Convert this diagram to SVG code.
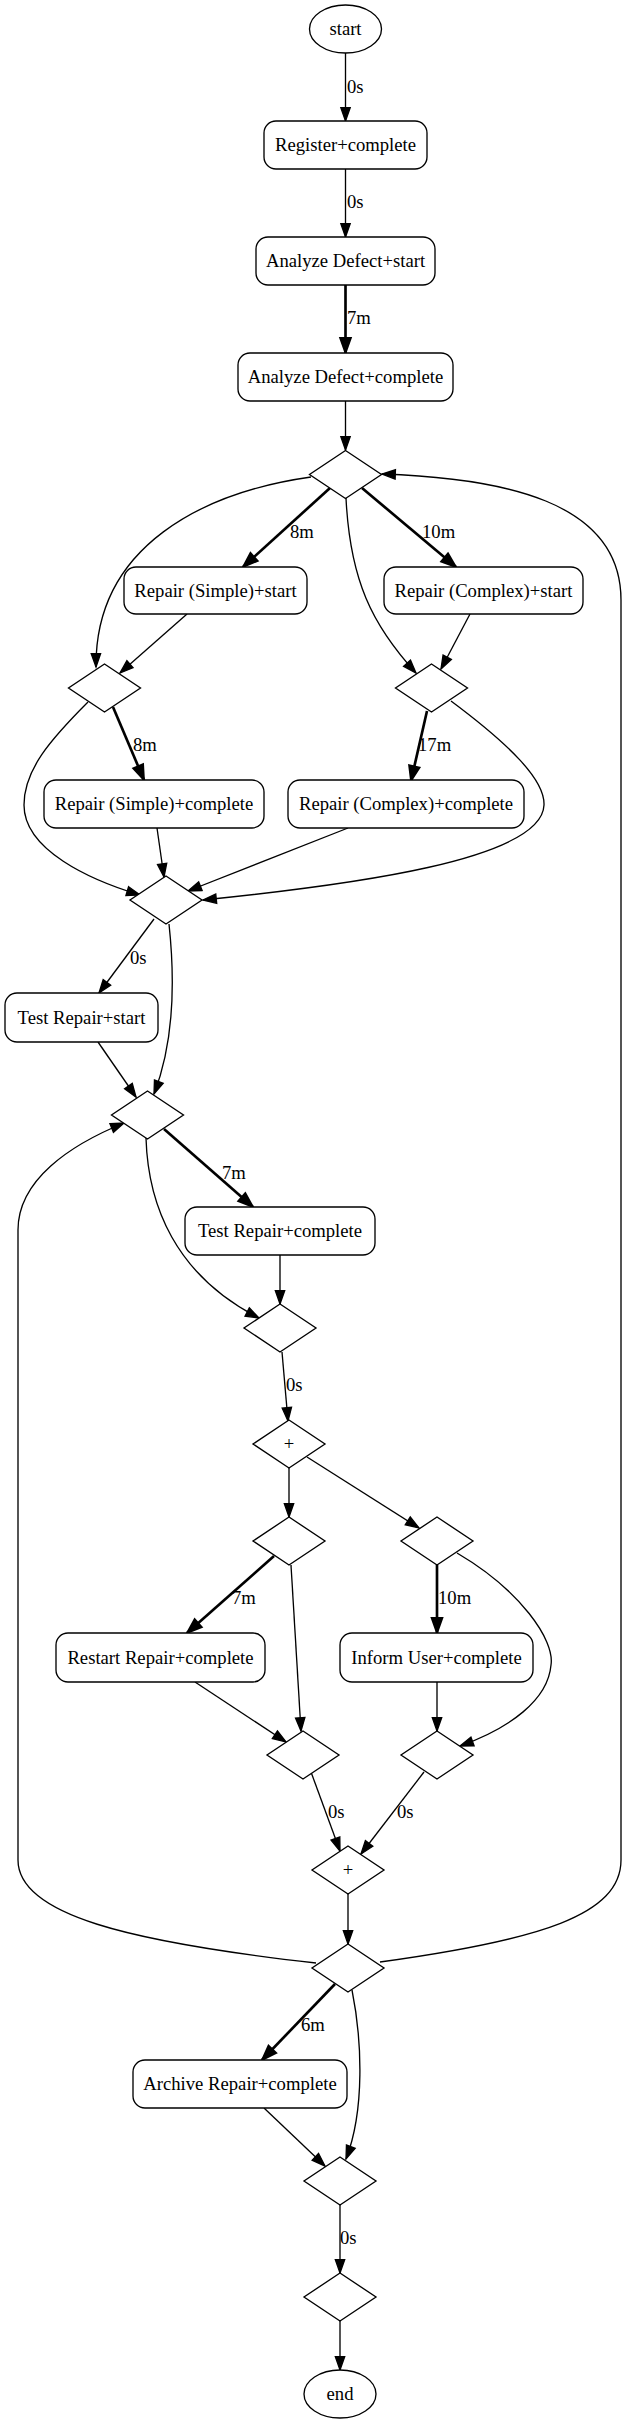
<svg xmlns="http://www.w3.org/2000/svg" width="624" height="2424" viewBox="0 0 624 2424">
<style>
text{font-family:"Liberation Serif","Times New Roman",serif;font-size:18.67px;fill:#000}
.n text{text-anchor:middle}
.n rect,.n ellipse,.n polygon{fill:#fff;stroke:#000;stroke-width:1.33}
.e path{fill:none;stroke:#000;stroke-width:1.33;marker-end:url(#ah)}
.e path.t{stroke-width:2.67;marker-end:url(#aht)}
.e text{text-anchor:start}
</style>
<defs>
<marker id="ah" markerUnits="userSpaceOnUse" markerWidth="14" markerHeight="10" viewBox="0 0 14 10" refX="13.3" refY="5" orient="auto" overflow="visible"><path d="M0,0.33 L13.3,5 L0,9.67 Z" fill="#000" stroke="#000" stroke-width="1.33"/></marker>
<marker id="aht" markerUnits="userSpaceOnUse" markerWidth="16" markerHeight="12" viewBox="0 0 16 12" refX="15" refY="6" orient="auto" overflow="visible"><path d="M0,0.6 L15,6 L0,11.4 Z" fill="#000" stroke="#000" stroke-width="1.8"/></marker>
</defs>
<rect width="624" height="2424" fill="#fff"/>
<g id="edges" class="e">
<path d="M345.5,53 L345.5,121"/><text x="347" y="93">0s</text>
<path d="M345.5,169 L345.5,237"/><text x="347" y="208">0s</text>
<path class="t" d="M345.5,285 L345.5,353"/><text x="347" y="324">7m</text>
<path d="M345.5,401 L345.5,450"/>
<path class="t" d="M330,488 L243,567"/><text x="290" y="538">8m</text>
<path class="t" d="M362,488 L456,567"/><text x="422" y="538">10m</text>
<path d="M311,477 C205,492 95,545 96,667"/>
<path d="M187,614 L120,673"/>
<path d="M346,498 C350,580 372,625 416,673"/>
<path d="M470,614 L441,669"/>
<path class="t" d="M113,707 L144,780"/><text x="133" y="751">8m</text>
<path class="t" d="M427,711 L411,781"/><text x="418" y="751">17m</text>
<path d="M88,702 C50,740 24,770 24,805 C24,850 90,880 140,895"/>
<path d="M157,828 L164,877"/>
<path d="M348,828 L188,891"/>
<path d="M451,701 C510,745 545,780 544,805 C542,860 350,885 203,900"/>
<path d="M154,919 L99,993"/><text x="130" y="964">0s</text>
<path d="M169,924 C175,980 175,1040 154,1094"/>
<path d="M98,1042 L136,1097"/>
<path class="t" d="M164,1129 L253,1207"/><text x="222" y="1179">7m</text>
<path d="M146,1138 C148,1205 175,1275 259,1318"/>
<path d="M280,1255 L280,1304"/>
<path d="M282,1352 L288,1421"/><text x="286" y="1391">0s</text>
<path d="M289,1468 L289,1517"/>
<path d="M307,1457 L419,1528"/>
<path class="t" d="M274,1556 L187,1633"/><text x="232" y="1604">7m</text>
<path d="M291,1565 L301,1731"/>
<path d="M195,1682 L286,1742"/>
<path class="t" d="M437,1565 L437,1633"/><text x="438" y="1604">10m</text>
<path d="M437,1682 L437,1731"/>
<path d="M457,1553 C520,1590 555,1640 551,1665 C548,1700 510,1728 460,1746"/>
<path d="M311,1772 L340,1851"/><text x="328" y="1818">0s</text>
<path d="M424,1772 L361,1854"/><text x="397" y="1818">0s</text>
<path d="M348,1894 L348,1944"/>
<path class="t" d="M335,1984 L262,2060"/><text x="301" y="2031">6m</text>
<path d="M352,1990 C362,2040 365,2110 346,2159"/>
<path d="M264,2108 L325,2166"/>
<path d="M340,2205 L340,2273"/><text x="340" y="2244">0s</text>
<path d="M340,2321 L340,2370"/>
<path d="M316,1963 C130,1942 18,1915 18,1860 L18,1230 C18,1180 70,1145 124,1123"/>
<path d="M380,1962 C540,1940 621,1915 621,1860 L621,600 C621,500 500,478 382,474"/>
</g>
<g id="start" class="n"><ellipse cx="345.5" cy="29" rx="36" ry="24"/><text x="345.5" y="35">start</text></g>
<g id="register_complete" class="n"><rect x="264" y="121" width="163" height="48" rx="12"/><text x="345.5" y="151">Register+complete</text></g>
<g id="analyze_start" class="n"><rect x="256" y="237" width="179" height="48" rx="12"/><text x="345.5" y="267">Analyze Defect+start</text></g>
<g id="analyze_complete" class="n"><rect x="238" y="353" width="215" height="48" rx="12"/><text x="345.5" y="383">Analyze Defect+complete</text></g>
<g id="g1" class="n"><polygon points="345.5,450.5 381.5,474.5 345.5,498.5 309.5,474.5"/></g>
<g id="repair_simple_start" class="n"><rect x="124" y="567" width="183" height="47" rx="12"/><text x="215.5" y="596.5">Repair (Simple)+start</text></g>
<g id="repair_complex_start" class="n"><rect x="384" y="567" width="199" height="47" rx="12"/><text x="483.5" y="596.5">Repair (Complex)+start</text></g>
<g id="g2" class="n"><polygon points="104.5,664 140.5,688 104.5,712 68.5,688"/></g>
<g id="g3" class="n"><polygon points="431.5,664 467.5,688 431.5,712 395.5,688"/></g>
<g id="repair_simple_complete" class="n"><rect x="44" y="780" width="220" height="48" rx="12"/><text x="154" y="810">Repair (Simple)+complete</text></g>
<g id="repair_complex_complete" class="n"><rect x="288" y="780" width="236" height="48" rx="12"/><text x="406" y="810">Repair (Complex)+complete</text></g>
<g id="g4" class="n"><polygon points="166,876 202,900 166,924 130,900"/></g>
<g id="test_repair_start" class="n"><rect x="5" y="993" width="153" height="49" rx="12"/><text x="81.5" y="1023.5">Test Repair+start</text></g>
<g id="g5" class="n"><polygon points="147.5,1091 183.5,1115 147.5,1139 111.5,1115"/></g>
<g id="test_repair_complete" class="n"><rect x="185" y="1207" width="190" height="48" rx="12"/><text x="280" y="1237">Test Repair+complete</text></g>
<g id="g6" class="n"><polygon points="280,1304 316,1328 280,1352 244,1328"/></g>
<g id="p1" class="n"><polygon points="289,1420 325,1444 289,1468 253,1444"/><text x="289" y="1450">+</text></g>
<g id="g7" class="n"><polygon points="289,1517 325,1541 289,1565 253,1541"/></g>
<g id="g8" class="n"><polygon points="437,1517 473,1541 437,1565 401,1541"/></g>
<g id="restart_repair_complete" class="n"><rect x="56" y="1633" width="209" height="49" rx="12"/><text x="160.5" y="1663.5">Restart Repair+complete</text></g>
<g id="inform_user_complete" class="n"><rect x="340" y="1633" width="193" height="49" rx="12"/><text x="436.5" y="1663.5">Inform User+complete</text></g>
<g id="g9" class="n"><polygon points="303,1731 339,1755 303,1779 267,1755"/></g>
<g id="g10" class="n"><polygon points="437,1731 473,1755 437,1779 401,1755"/></g>
<g id="p2" class="n"><polygon points="348,1846 384,1870 348,1894 312,1870"/><text x="348" y="1876">+</text></g>
<g id="g11" class="n"><polygon points="348,1944 384,1968 348,1992 312,1968"/></g>
<g id="archive_repair_complete" class="n"><rect x="133" y="2060" width="214" height="48" rx="12"/><text x="240" y="2090">Archive Repair+complete</text></g>
<g id="g12" class="n"><polygon points="340,2157 376,2181 340,2205 304,2181"/></g>
<g id="g13" class="n"><polygon points="340,2273 376,2297 340,2321 304,2297"/></g>
<g id="end" class="n"><ellipse cx="340" cy="2394" rx="36" ry="24"/><text x="340" y="2400">end</text></g>
</svg>
